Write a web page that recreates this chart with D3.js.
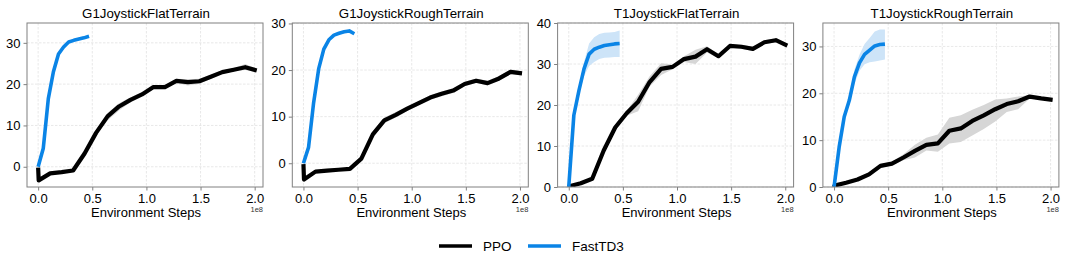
<!DOCTYPE html>
<html>
<head>
<meta charset="utf-8">
<script src="https://cdn.jsdelivr.net/npm/d3@7"></script>
<style>
  body { margin:0; background:#fff; }
  svg text { font-family: "Liberation Sans", Arial, Helvetica, sans-serif; fill:#000; }
</style>
</head>
<body>
<div id="chart"></div>
<script>

// environment steps (x 1e8)
var ppoSteps = [0, 0.005, 0.111, 0.217, 0.323, 0.429, 0.535, 0.641, 0.747, 0.853, 0.959,
                1.065, 1.171, 1.277, 1.383, 1.489, 1.595, 1.701, 1.807, 1.913, 2.019]
var tdSteps = [0, 0.047, 0.094, 0.141, 0.188, 0.235, 0.282, 0.329, 0.376, 0.423, 0.47]

var titles = ["G1JoystickFlatTerrain", "G1JoystickRoughTerrain", "T1JoystickFlatTerrain", "T1JoystickRoughTerrain"]
var yDomains = [[-4.9, 34.8], [-5.1, 30.1], [0, 40], [0, 35]]
var yTicks = [[0, 10, 20, 30], [0, 10, 20, 30], [0, 10, 20, 30, 40], [0, 10, 20, 30]]
var xTicks = [0, 0.5, 1.0, 1.5, 2.0]

// PPO mean + band
var ppoG1Flat = [-0.2, -3.3, -1.6, -1.3, -0.9, 3.2, 8.2, 12.2, 14.6, 16.2, 17.5, 19.3, 19.3, 20.8, 20.5, 20.7, 21.8, 22.9, 23.5, 24.1, 23.3]
var ppoG1FlatLo = [-0.2, -3.5, -1.8, -1.5, -1.1, 2.8, 7.6, 11.2, 13.6, 15.6, 17.0, 18.9, 18.9, 20.3, 19.7, 20.1, 21.3, 22.5, 23.1, 23.4, 22.9]
var ppoG1FlatHi = [-0.2, -3.1, -1.4, -1.1, -0.7, 3.6, 8.8, 13.0, 15.4, 16.8, 18.0, 19.7, 19.7, 21.3, 21.2, 21.3, 22.3, 23.3, 23.9, 24.9, 23.7]

var ppoG1Rough = [-0.2, -3.5, -1.8, -1.6, -1.4, -1.2, 1.0, 6.2, 9.2, 10.4, 11.7, 12.9, 14.1, 14.9, 15.6, 17.0, 17.7, 17.2, 18.2, 19.6, 19.3]
var ppoG1RoughLo = [-0.2, -3.7, -2.0, -1.8, -1.6, -1.4, 0.6, 5.5, 8.6, 9.8, 11.2, 12.4, 13.6, 14.4, 15.1, 16.5, 17.2, 16.7, 17.7, 19.1, 18.9]
var ppoG1RoughHi = [-0.2, -3.3, -1.6, -1.4, -1.2, -1.0, 1.4, 6.9, 9.8, 11.0, 12.2, 13.4, 14.6, 15.4, 16.1, 17.5, 18.2, 17.7, 18.7, 20.1, 19.7]

var ppoT1Flat = [0, 0.2, 0.9, 2.0, 8.9, 14.5, 18.0, 20.8, 25.6, 28.8, 29.3, 31.2, 31.8, 33.6, 31.9, 34.4, 34.2, 33.7, 35.3, 35.8, 34.5]
var ppoT1FlatLo = [0, 0.1, 0.7, 1.7, 8.4, 14.0, 17.4, 18.5, 24.5, 27.3, 28.7, 30.5, 30.0, 32.8, 31.4, 33.9, 33.7, 33.2, 34.8, 35.3, 34.0]
var ppoT1FlatHi = [0, 0.3, 1.1, 2.3, 9.4, 15.0, 18.6, 22.5, 27.0, 30.2, 29.9, 31.9, 33.5, 34.3, 32.4, 34.9, 34.7, 34.2, 35.8, 36.3, 35.0]

var ppoT1Rough = [0, 0.3, 0.9, 1.6, 2.7, 4.5, 5.0, 6.3, 7.7, 9.0, 9.3, 12.0, 12.5, 14.1, 15.3, 16.6, 17.7, 18.3, 19.3, 18.9, 18.6]
var ppoT1RoughLo = [0, 0.2, 0.7, 1.3, 2.3, 4.1, 4.6, 5.7, 6.3, 7.8, 7.5, 9.3, 9.6, 11.0, 12.4, 14.0, 16.0, 16.6, 18.9, 18.6, 18.3]
var ppoT1RoughHi = [0, 0.4, 1.1, 1.9, 3.1, 4.9, 5.4, 7.0, 9.0, 10.5, 11.2, 14.8, 15.3, 16.5, 17.5, 18.7, 18.9, 19.3, 19.6, 19.2, 18.9]

// FastTD3 mean + band
var tdG1Flat = [0, 4.4, 16.5, 23.0, 27.3, 29.0, 30.2, 30.6, 30.9, 31.2, 31.6]
var tdG1FlatLo = [0, 4.2, 16.2, 22.7, 27.0, 28.7, 29.9, 30.3, 30.6, 30.9, 31.3]
var tdG1FlatHi = [0, 4.6, 16.8, 23.3, 27.6, 29.3, 30.5, 30.9, 31.2, 31.5, 31.9]

var tdG1Rough = [0, 3.4, 13.0, 20.3, 24.5, 26.5, 27.5, 27.9, 28.2, 28.4, 27.8]
var tdG1RoughLo = [0, 3.2, 12.7, 20.0, 24.2, 26.2, 27.2, 27.6, 27.9, 28.1, 27.5]
var tdG1RoughHi = [0, 3.6, 13.3, 20.6, 24.8, 26.8, 27.8, 28.2, 28.5, 28.7, 28.1]

var tdT1Flat = [0, 17.5, 23.5, 28.8, 32.4, 33.6, 34.1, 34.5, 34.7, 34.9, 35.0]
var tdT1FlatLo = [0, 17.0, 22.5, 27.0, 29.5, 30.5, 31.2, 31.5, 31.6, 31.7, 31.7]
var tdT1FlatHi = [0, 18.0, 24.5, 30.5, 35.0, 36.5, 37.3, 37.6, 37.7, 37.8, 38.2]

var tdT1Rough = [0, 8.5, 15.0, 18.5, 23.5, 26.5, 28.3, 29.2, 30.1, 30.4, 30.5]
var tdT1RoughLo = [0, 8.0, 14.5, 17.5, 22.0, 24.8, 26.2, 26.6, 26.8, 27.0, 27.2]
var tdT1RoughHi = [0, 9.0, 15.5, 19.3, 25.0, 28.2, 30.5, 31.8, 33.2, 33.6, 33.6]

var ppoMean = [ppoG1Flat, ppoG1Rough, ppoT1Flat, ppoT1Rough]
var ppoLo = [ppoG1FlatLo, ppoG1RoughLo, ppoT1FlatLo, ppoT1RoughLo]
var ppoHi = [ppoG1FlatHi, ppoG1RoughHi, ppoT1FlatHi, ppoT1RoughHi]
var tdMean = [tdG1Flat, tdG1Rough, tdT1Flat, tdT1Rough]
var tdLo = [tdG1FlatLo, tdG1RoughLo, tdT1FlatLo, tdT1RoughLo]
var tdHi = [tdG1FlatHi, tdG1RoughHi, tdT1FlatHi, tdT1RoughHi]

var legendNames = ["PPO", "FastTD3"]
var colors = {ppo: "#000000", td: "#0a84e6"}
var bands = {ppo: "#d6d6d6", td: "#cde4f8"}

var W = 1069, H = 267
var svg = d3.select("#chart").append("svg").attr("width", W).attr("height", H)

var pw = 236, ph = 164, axTop = 23
var spine = "#808080"

titles.forEach(function(t, i) {
  var left = 27 + i * 265.3
  var g = svg.append("g").attr("transform", "translate(" + left + "," + axTop + ")")
  var x = d3.scaleLinear().domain([-0.103, 2.077]).range([0, pw])
  var y = d3.scaleLinear().domain(yDomains[i]).range([ph, 0])

  // grid
  g.selectAll(".gx").data(xTicks).enter().append("line")
    .attr("x1", d => x(d)).attr("x2", d => x(d)).attr("y1", 0).attr("y2", ph)
    .style("stroke", "#e2e2e2").style("stroke-width", 0.8).style("stroke-dasharray", "2.5,1.5")
  g.selectAll(".gy").data(yTicks[i]).enter().append("line")
    .attr("x1", 0).attr("x2", pw).attr("y1", d => y(d)).attr("y2", d => y(d))
    .style("stroke", "#e2e2e2").style("stroke-width", 0.8).style("stroke-dasharray", "2.5,1.5")

  var clipId = "clip" + i
  g.append("clipPath").attr("id", clipId).append("rect").attr("width", pw).attr("height", ph)
  var plot = g.append("g").attr("clip-path", "url(#" + clipId + ")")

  function series(steps, mean, lo, hi, key, lw) {
    var pts = steps.map((s, k) => ({x: s, m: mean[k], lo: lo[k], hi: hi[k]}))
    plot.append("path").datum(pts)
      .attr("d", d3.area().x(d => x(d.x)).y0(d => y(d.lo)).y1(d => y(d.hi)))
      .style("fill", bands[key]).style("stroke", "none")
    plot.append("path").datum(pts)
      .attr("d", d3.line().x(d => x(d.x)).y(d => y(d.m)))
      .style("fill", "none").style("stroke", colors[key]).style("stroke-width", lw)
      .style("stroke-linejoin", "round").style("stroke-linecap", "butt")
  }
  series(ppoSteps, ppoMean[i], ppoLo[i], ppoHi[i], "ppo", 4.2)
  series(tdSteps, tdMean[i], tdLo[i], tdHi[i], "td", 3.6)

  // axes
  var xa = g.append("g").attr("transform", "translate(0," + ph + ")")
    .call(d3.axisBottom(x).tickValues(xTicks).tickFormat(d3.format(".1f")).tickSize(3.5).tickPadding(3))
  var ya = g.append("g")
    .call(d3.axisLeft(y).tickValues(yTicks[i]).tickFormat(d3.format("d")).tickSize(3.5).tickPadding(3))
  ;[xa, ya].forEach(function(a) {
    a.select(".domain").remove()
    a.selectAll("line").style("stroke", spine)
    a.selectAll("text").style("font-size", "13px").style("fill", "#000")
      .style("font-family", "'Liberation Sans', Arial, sans-serif")
  })
  g.append("rect").attr("width", pw).attr("height", ph)
    .style("fill", "none").style("stroke", spine).style("stroke-width", 1)

  g.append("text").attr("x", pw / 2 + 1).attr("y", -5).attr("text-anchor", "middle")
    .style("font-size", "13.3px").text(t)
  g.append("text").attr("x", pw / 2 + 1).attr("y", ph + 29.5).attr("text-anchor", "middle")
    .style("font-size", "13px").text("Environment Steps")
  g.append("text").attr("x", pw).attr("y", ph + 25).attr("text-anchor", "end")
    .style("font-size", "7.5px").style("fill", "#333").text("1e8")
})

// legend
var lg = svg.append("g").attr("transform", "translate(439,246)")
legendNames.forEach(function(n, k) {
  var off = k * 89
  lg.append("line").attr("x1", off).attr("x2", off + 33).attr("y1", 0).attr("y2", 0)
    .style("stroke", k == 0 ? colors.ppo : colors.td).style("stroke-width", 3.6)
  lg.append("text").attr("x", off + 44).attr("y", 5).style("font-size", "13.5px").text(n)
})

</script>
</body>
</html>
